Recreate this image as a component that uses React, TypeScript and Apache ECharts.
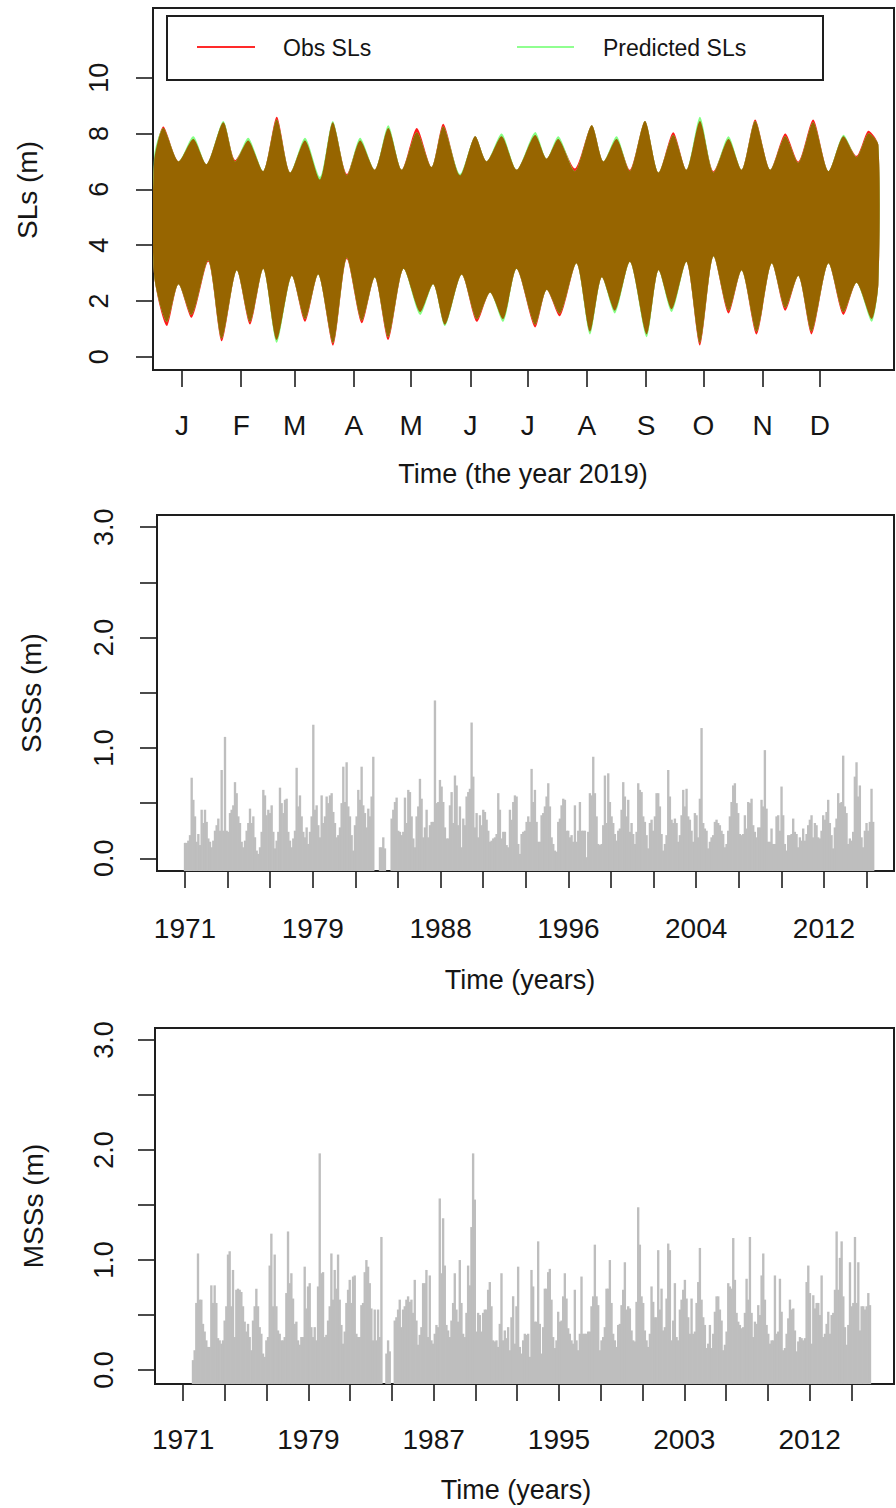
import React, { useEffect, useRef } from 'react';
import * as echarts from 'echarts';

// ---------- Panel 1: sea levels 2019 (envelopes of hourly obs / predicted) ----------
const monthDays = [0, 31, 59, 90, 120, 151, 181, 212, 243, 273, 304, 334];
const monthLabels = ['J', 'F', 'M', 'A', 'M', 'J', 'J', 'A', 'S', 'O', 'N', 'D'];
const slTicks = [0, 2, 4, 6, 8, 10];

const upperDays = [-14.6, -9.8, -1.9, 5.9, 12.9, 21.6, 27.7, 34.7, 42.6, 49.6, 56.5, 64.4, 72.3, 78.9, 86.2, 93.2, 101.0, 108.0, 115.0, 122.9, 130.7, 136.8, 145.5, 153.4, 159.5, 167.4, 175.2, 184.8, 190.9, 197.1, 205.8, 214.5, 220.6, 227.6, 234.6, 242.4, 249.4, 257.2, 264.2, 271.2, 278.2, 286.1, 293.1, 300.1, 307.9, 315.8, 322.8, 330.5, 338.4, 346.2, 353.2, 359.3, 364.6];
const obsUpper = [7.0, 8.25, 7.0, 7.8, 6.9, 8.4, 7.05, 7.75, 6.65, 8.6, 6.6, 7.75, 6.35, 8.4, 6.55, 7.75, 6.7, 8.2, 6.7, 8.2, 6.8, 8.35, 6.5, 7.9, 7.0, 7.9, 6.7, 7.95, 7.1, 7.8, 6.75, 8.3, 7.0, 7.8, 6.7, 8.45, 6.6, 8.05, 6.7, 8.45, 6.65, 7.8, 6.7, 8.5, 6.7, 8.0, 7.0, 8.5, 6.65, 7.9, 7.2, 8.1, 7.6];
const predUpper = [7.2, 8.2, 7.0, 7.9, 6.9, 8.45, 7.0, 7.85, 6.65, 8.5, 6.6, 7.85, 6.45, 8.45, 6.5, 7.85, 6.7, 8.3, 6.7, 8.05, 6.8, 8.25, 6.55, 7.9, 7.0, 8.0, 6.7, 8.05, 7.1, 7.9, 6.65, 8.3, 7.0, 7.9, 6.65, 8.45, 6.6, 7.95, 6.7, 8.6, 6.6, 7.9, 6.7, 8.45, 6.7, 7.9, 6.95, 8.4, 6.65, 7.95, 7.15, 8.0, 7.6];
const lowerDays = [-14.6, -8.0, -1.9, 5.1, 13.8, 20.8, 28.6, 35.6, 42.6, 49.6, 57.4, 64.4, 71.4, 79.2, 86.2, 94.1, 101.0, 108.0, 115.9, 124.6, 131.6, 137.7, 146.4, 154.3, 161.3, 168.2, 175.2, 184.8, 190.9, 197.9, 206.6, 213.6, 219.7, 226.7, 234.6, 243.3, 249.4, 256.4, 264.2, 271.2, 278.2, 286.1, 293.1, 300.9, 308.7, 315.8, 322.8, 329.7, 338.4, 346.2, 353.2, 361.1, 364.6];
const obsLower = [2.9, 1.1, 2.6, 1.4, 3.4, 0.55, 3.1, 1.15, 3.15, 0.6, 2.9, 1.25, 2.95, 0.4, 3.5, 1.2, 2.85, 0.6, 3.15, 1.6, 2.6, 1.15, 2.95, 1.25, 2.3, 1.35, 3.15, 1.05, 2.4, 1.45, 3.35, 0.9, 2.85, 1.65, 3.4, 0.8, 3.1, 1.7, 3.4, 0.4, 3.6, 1.55, 3.1, 0.8, 3.35, 1.65, 2.9, 0.8, 3.35, 1.5, 2.65, 1.35, 2.6];
const predLower = [2.9, 1.25, 2.6, 1.5, 3.45, 0.65, 3.1, 1.25, 3.15, 0.5, 2.9, 1.35, 2.95, 0.5, 3.55, 1.3, 2.85, 0.7, 3.15, 1.5, 2.6, 1.1, 2.95, 1.35, 2.3, 1.25, 3.15, 1.15, 2.4, 1.55, 3.35, 0.8, 2.85, 1.55, 3.4, 0.7, 3.1, 1.6, 3.4, 0.5, 3.6, 1.65, 3.1, 0.9, 3.35, 1.75, 2.9, 0.9, 3.35, 1.6, 2.65, 1.25, 2.6];

// ---------- Panels 2 & 3: surge series (m) ----------
const TICK_STEP = 1000 / 365.25; // years between axis ticks
const yearTicks = Array.from({ length: 17 }, (_, k) => 1971 + k * TICK_STEP);
const labelTickIdx = [0, 3, 6, 9, 12, 15];
const ssssLabels = ['1971', '1979', '1988', '1996', '2004', '2012'];
const msssLabels = ['1971', '1979', '1987', '1995', '2003', '2012'];
const surgeTicks = [0, 0.5, 1, 1.5, 2, 2.5, 3];
const surgeLabels = [0, 1, 2, 3];

const SSSS_START = 1971.0;
const SSSS_STEP = 0.1071;
const ssss: (number | null)[] = [
  0.14, 0.14, 0.16, 0.21, 0.73, 0.53, 0.38, 0.15, 0.22, 0.12,
  0.44, 0.32, 0.44, 0.33, 0.18, 0.15, 0.10, 0.16, 0.25, 0.30,
  0.36, 0.25, 0.80, 0.25, 1.10, 0.25, 0.24, 0.41, 0.44, 0.48,
  0.69, 0.59, 0.38, 0.32, 0.15, 0.10, 0.16, 0.25, 0.32, 0.45,
  0.32, 0.38, 0.19, 0.07, 0.04, 0.10, 0.24, 0.62, 0.57, 0.39,
  0.44, 0.41, 0.48, 0.24, 0.09, 0.16, 0.24, 0.64, 0.50, 0.41,
  0.53, 0.54, 0.24, 0.16, 0.10, 0.18, 0.25, 0.82, 0.47, 0.57,
  0.38, 0.24, 0.19, 0.28, 0.13, 0.24, 0.38, 1.21, 0.44, 0.48,
  0.30, 0.19, 0.57, 0.32, 0.38, 0.56, 0.50, 0.57, 0.59, 0.42,
  0.32, 0.19, 0.21, 0.28, 0.50, 0.83, 0.51, 0.87, 0.47, 0.38,
  0.21, 0.07, 0.30, 0.38, 0.62, 0.53, 0.83, 0.48, 0.41, 0.28,
  0.45, 0.38, 0.56, 0.92, null, null, null, 0.10, 0.10, 0.19,
  0.09, null, null, null, 0.36, 0.44, 0.51, 0.55, 0.25, 0.24,
  0.21, 0.24, 0.55, 0.32, 0.62, 0.60, 0.38, 0.18, 0.10, 0.38,
  0.47, 0.72, 0.54, 0.19, 0.28, 0.44, 0.19, 0.30, 0.33, 0.33,
  1.43, 0.50, 0.51, 0.71, 0.65, 0.51, 0.28, 0.18, 0.18, 0.48,
  0.60, 0.32, 0.75, 0.66, 0.30, 0.47, 0.10, 0.36, 0.30, 0.56,
  0.60, 0.63, 1.23, 0.74, 0.28, 0.41, 0.19, 0.39, 0.30, 0.44,
  0.42, 0.35, 0.25, 0.15, 0.16, 0.18, 0.19, 0.22, 0.59, 0.44,
  0.18, 0.24, 0.24, 0.12, 0.10, 0.44, 0.35, 0.51, 0.57, 0.56,
  0.13, 0.04, 0.22, 0.24, 0.25, 0.33, 0.38,
  0.33, 0.81, 0.51, 0.62, 0.33, 0.15, 0.15, 0.39, 0.41, 0.47,
  0.56, 0.68, 0.47, 0.19, 0.13, 0.07, 0.06, 0.33, 0.36, 0.48,
  0.54, 0.53, 0.25, 0.25, 0.19, 0.21, 0.15, 0.48, 0.15, 0.25,
  0.51, 0.25, 0.25, 0.25, 0.01, 0.24, 0.59, 0.57, 0.92, 0.59,
  0.38, 0.13, 0.12, 0.13, 0.30, 0.75, 0.32, 0.77, 0.51, 0.38,
  0.32, 0.22, 0.16, 0.25, 0.27, 0.44, 0.69, 0.56, 0.38, 0.53,
  0.24, 0.32, 0.22, 0.13, 0.24, 0.68, 0.62, 0.60, 0.38, 0.33,
  0.21, 0.09, 0.32, 0.35, 0.25, 0.38, 0.59, 0.59, 0.47, 0.22,
  0.07, 0.13, 0.21, 0.80, 0.56, 0.35, 0.32, 0.36, 0.32, 0.15,
  0.21, 0.39, 0.62, 0.47, 0.63, 0.38, 0.35, 0.25, 0.15, 0.41,
  0.39, 0.19, 0.54, 1.18, 0.32, 0.27, 0.25, 0.09, 0.15, 0.19,
  0.21, 0.33, 0.35, 0.32, 0.30, 0.25, 0.22, 0.10, 0.13, 0.25,
  0.38, 0.51, 0.66, 0.68, 0.50, 0.41, 0.22, 0.21, 0.22, 0.39,
  0.27, 0.51, 0.50, 0.54, 0.30, 0.24, 0.19, 0.28, 0.28, 0.53,
  0.47, 0.98, 0.45, 0.15, 0.15, 0.27, 0.13, 0.13, 0.38, 0.39,
  0.25, 0.65, 0.39, 0.13, 0.07, 0.21, 0.21, 0.22, 0.36, 0.24,
  0.22, 0.10, 0.19, 0.16, 0.27, 0.16, 0.22, 0.30, 0.35, 0.39,
  0.19, 0.32, 0.30, 0.19, 0.18, 0.25, 0.39, 0.35, 0.42, 0.53,
  0.32, 0.21, 0.09, 0.28, 0.36, 0.59, 0.50, 0.51, 0.93, 0.47,
  0.41, 0.13, 0.18, 0.16, 0.24, 0.74, 0.87, 0.56, 0.66, 0.19,
  0.10, 0.25, 0.32, 0.25, 0.33, 0.63, 0.33,
];

const MSSS_START = 1971.65;
const MSSS_STEP = 0.1093;
const msss: (number | null)[] = [
  0.09, 0.18, 0.61, 1.06, 0.64, 0.64, 0.42, 0.35, 0.27, 0.21,
  0.21, 0.77, 0.61, 0.77, 0.61, 0.29, 0.27, 0.24, 0.27, 0.45,
  0.58, 1.05, 1.08, 0.58, 0.91, 0.30, 0.73, 0.74, 0.73, 0.71,
  0.58, 0.44, 0.35, 0.42, 0.30, 0.18, 0.45, 0.58, 0.74, 0.58,
  0.39, 0.33, 0.15, 0.12, 0.27, 0.30, 0.95, 1.24, 0.58, 1.05,
  0.58, 0.36, 0.33, 0.27, 0.27, 0.30, 0.70, 1.26, 0.79, 0.88,
  0.65, 0.42, 0.44, 0.27, 0.23, 0.30, 0.30, 0.94, 0.56, 0.76,
  0.79, 0.39, 0.30, 0.39, 0.27, 0.76, 1.97, 0.88, 0.89, 0.30,
  0.32, 0.45, 0.58, 1.06, 0.64, 0.91, 0.74, 1.05, 0.64, 0.41,
  0.24, 0.35, 0.61, 0.73, 0.82, 0.61, 0.85, 0.86, 0.33, 0.30,
  0.30, 0.59, 0.61, 0.89, 1.00, 0.94, 0.79, 0.56, 0.27, 0.55,
  0.27, 0.55, 0.30, 1.21, null, null, 0.15, 0.27, 0.17, null,
  null, 0.45, 0.48, 0.55, 0.64, 0.39, 0.55, 0.58, 0.64, 0.67,
  0.62, 0.64, 0.52, 0.82, 0.45, 0.23, 0.32, 0.39, 0.79, 0.79,
  0.91, 0.30, 0.86, 0.27, 0.24, 0.33, 0.41, 0.39, 1.56, 0.88,
  1.38, 0.95, 0.41, 0.36, 0.30, 0.45, 0.61, 0.88, 0.55, 0.44,
  1.00, 0.61, 0.33, 0.30, 0.52, 0.95, 0.77, 1.30, 1.97, 1.55,
  0.35, 0.52, 0.50, 0.35, 0.52, 0.55, 0.55, 0.73, 0.80, 0.58,
  0.27, 0.26, 0.27, 0.21, 0.42, 0.88, 0.27, 0.36, 0.29, 0.39,
  0.18, 0.48, 0.67, 0.24, 0.58, 0.94, 0.21, 0.15, 0.27, 0.33,
  0.32, 0.33,
  0.12, 0.91, 0.76, 0.44, 0.44, 1.17, 0.42, 0.15, 0.39, 0.74,
  0.74, 0.89, 0.92, 0.64, 0.30, 0.20, 0.27, 0.53, 0.44, 0.45,
  0.67, 0.88, 0.65, 0.38, 0.33, 0.27, 0.24, 0.73, 0.27, 0.18,
  0.33, 0.85, 0.33, 0.33, 0.33, 0.35, 0.35, 0.58, 0.67, 1.14,
  0.67, 0.59, 0.18, 0.27, 0.30, 0.39, 0.74, 0.74, 1.00, 0.61,
  0.33, 0.27, 0.21, 0.41, 0.42, 0.59, 0.73, 0.98, 0.55, 0.58,
  0.56, 0.36, 0.27, 0.26, 0.62, 1.48, 1.14, 0.67, 0.61, 0.36,
  0.27, 0.21, 0.33, 0.76, 0.62, 0.48, 0.48, 1.09, 0.55, 0.74,
  0.36, 0.39, 0.65, 1.15, 1.09, 0.27, 0.45, 0.79, 0.30, 0.27,
  0.55, 0.64, 0.73, 0.82, 0.65, 0.48, 0.33, 0.65, 0.33, 0.35,
  0.61, 0.80, 1.11, 0.64, 0.48, 0.41, 0.20, 0.24, 0.41, 0.20,
  0.33, 0.53, 0.67, 0.67, 0.55, 0.45, 0.18, 0.23, 0.35, 0.79,
  0.76, 0.74, 1.20, 0.82, 0.52, 0.44, 0.41, 0.38, 0.39, 0.52,
  0.83, 0.64, 1.21, 0.52, 0.30, 0.44, 0.42, 0.59, 0.50, 0.86,
  1.06, 0.64, 0.41, 0.33, 0.24, 0.27, 0.27, 0.86, 0.33, 0.35,
  0.83, 0.53, 0.18, 0.20, 0.33, 0.47, 0.64, 0.55, 0.56, 0.36,
  0.17, 0.26, 0.30, 0.29, 0.27, 0.29, 0.80, 0.95, 0.70, 0.24,
  0.68, 0.56, 0.61, 0.61, 0.50, 0.86, 0.30, 0.33, 0.42, 0.53,
  0.33, 0.50, 0.52, 0.73, 1.26, 0.73, 1.02, 1.17, 0.67, 0.39,
  0.23, 0.41, 0.98, 0.58, 0.61, 1.21, 0.61, 0.98, 0.36, 0.58,
  0.58, 0.55, 0.58, 0.70, 0.59,
];

const FONT = "'Liberation Sans', Arial, Helvetica, sans-serif";
const INK = '#151515';

function barSeries(values: (number | null)[], start: number, step: number, idx: number, yMin: number) {
  const data: number[][] = [];
  values.forEach((v, i) => {
    if (v !== null) data.push([start + i * step, v]);
  });
  return {
    type: 'custom',
    xAxisIndex: idx,
    yAxisIndex: idx,
    silent: true,
    clip: true,
    data,
    encode: { x: 0, y: 1 },
    renderItem: (_p: any, api: any) => {
      const t = api.value(0);
      const v = api.value(1);
      const base = api.coord([t, yMin]);
      const top = api.coord([t, v]);
      const w = api.size([step, 0])[0] + 0.7;
      return {
        type: 'rect',
        shape: { x: top[0] - w / 2, y: top[1], width: w, height: base[1] - top[1] },
        style: { fill: '#bebebe' },
      };
    },
  };
}

export default function App() {
  const ref = useRef<HTMLDivElement>(null);
  useEffect(() => {
    if (!ref.current) return;
    const chart = echarts.init(ref.current, null, { renderer: 'svg' });

    const gridBase = { show: true, borderColor: '#1e1e1e', borderWidth: 2, backgroundColor: 'transparent', containLabel: false, outerBoundsMode: 'none' };
    const tickStyle = { show: true, inside: false, length: 17, lineStyle: { color: '#1e1e1e', width: 1.6 } };
    const labelBase = { color: INK, fontFamily: FONT, fontSize: 28 };
    const noLine = { show: false, onZero: false };

    const Y1 = { min: -0.477, max: 12.5 };
    const Y2 = { min: -0.115, max: 3.11 };
    const Y3 = { min: -0.127, max: 3.11 };

    const bandSeries = {
      type: 'custom',
      xAxisIndex: 0,
      yAxisIndex: 0,
      silent: true,
      clip: true,
      data: [[0, 5]],
      renderItem: (_p: any, api: any) => {
        const poly = (up: number[], lo: number[]) => {
          const pts: number[][] = [];
          upperDays.forEach((d, i) => pts.push(api.coord([d, up[i]])));
          for (let i = lowerDays.length - 1; i >= 0; i--) pts.push(api.coord([lowerDays[i], lo[i]]));
          return pts;
        };
        const minU = obsUpper.map((v, i) => Math.min(v, predUpper[i]));
        const maxL = obsLower.map((v, i) => Math.max(v, predLower[i]));
        return {
          type: 'group',
          children: [
            { type: 'polygon', shape: { points: poly(obsUpper, obsLower), smooth: 0.25 }, style: { fill: '#ff1a1a' } },
            { type: 'polygon', shape: { points: poly(predUpper, predLower), smooth: 0.25 }, style: { fill: '#84ff84' } },
            { type: 'polygon', shape: { points: poly(minU, maxL), smooth: 0.25 }, style: { fill: '#976500' } },
          ],
        };
      },
    };

    const yearLabelFmt = (labels: string[]) => (v: number) => {
      const k = Math.round((v - 1971) / TICK_STEP);
      const j = labelTickIdx.indexOf(k);
      return j >= 0 ? labels[j] : '';
    };

    const option: any = {
      animation: false,
      backgroundColor: '#ffffff',
      grid: [
        { ...gridBase, left: 153, top: 8, width: 741, height: 362 },
        { ...gridBase, left: 157, top: 515, width: 737, height: 356 },
        { ...gridBase, left: 155, top: 1028, width: 739, height: 356 },
      ],
      xAxis: [
        {
          type: 'value', gridIndex: 0, position: 'bottom', min: -15.2, max: 372.8,
          axisLine: noLine, splitLine: { show: false },
          axisTick: { ...tickStyle, customValues: monthDays },
          axisLabel: {
            ...labelBase, margin: 41, customValues: monthDays,
            formatter: (v: number) => monthLabels[monthDays.indexOf(Math.round(v))] ?? '',
          },
        },
        {
          type: 'value', gridIndex: 1, position: 'bottom', min: 1969.2, max: 2016.57,
          axisLine: noLine, splitLine: { show: false },
          axisTick: { ...tickStyle, customValues: yearTicks },
          axisLabel: { ...labelBase, margin: 43, customValues: labelTickIdx.map((k) => yearTicks[k]), formatter: yearLabelFmt(ssssLabels) },
        },
        {
          type: 'value', gridIndex: 2, position: 'bottom', min: 1969.16, max: 2017.6,
          axisLine: noLine, splitLine: { show: false },
          axisTick: { ...tickStyle, customValues: yearTicks },
          axisLabel: { ...labelBase, margin: 41, customValues: labelTickIdx.map((k) => yearTicks[k]), formatter: yearLabelFmt(msssLabels) },
        },
      ],
      yAxis: [
        {
          type: 'value', gridIndex: 0, position: 'left', ...Y1,
          axisLine: noLine, splitLine: { show: false },
          axisTick: { ...tickStyle, customValues: slTicks },
          axisLabel: { ...labelBase, fontSize: 27, rotate: 90, margin: 41, customValues: slTicks, formatter: (v: number) => String(Math.round(v)) },
        },
        {
          type: 'value', gridIndex: 1, position: 'left', ...Y2,
          axisLine: noLine, splitLine: { show: false },
          axisTick: { ...tickStyle, customValues: surgeTicks },
          axisLabel: { ...labelBase, fontSize: 27, rotate: 90, margin: 40, customValues: surgeLabels, formatter: (v: number) => v.toFixed(1) },
        },
        {
          type: 'value', gridIndex: 2, position: 'left', ...Y3,
          axisLine: noLine, splitLine: { show: false },
          axisTick: { ...tickStyle, customValues: surgeTicks },
          axisLabel: { ...labelBase, fontSize: 27, rotate: 90, margin: 38, customValues: surgeLabels, formatter: (v: number) => v.toFixed(1) },
        },
      ],
      series: [
        bandSeries,
        barSeries(ssss, SSSS_START, SSSS_STEP, 1, Y2.min),
        barSeries(msss, MSSS_START, MSSS_STEP, 2, Y3.min),
      ],
      graphic: [
        { type: 'rect', z: 100, shape: { x: 167, y: 16, width: 656, height: 64 }, style: { fill: '#ffffff', stroke: '#1e1e1e', lineWidth: 2 } },
        { type: 'line', z: 101, shape: { x1: 197, y1: 47, x2: 255, y2: 47 }, style: { stroke: '#ff2a2a', lineWidth: 2 } },
        { type: 'text', z: 101, x: 283, y: 48, style: { text: 'Obs SLs', fontSize: 23, fontFamily: FONT, fill: INK, align: 'left', verticalAlign: 'middle' } },
        { type: 'line', z: 101, shape: { x1: 517, y1: 47, x2: 574, y2: 47 }, style: { stroke: '#90ff90', lineWidth: 2 } },
        { type: 'text', z: 101, x: 603, y: 48, style: { text: 'Predicted SLs', fontSize: 23, fontFamily: FONT, fill: INK, align: 'left', verticalAlign: 'middle' } },
        { type: 'text', x: 27, y: 190, rotation: Math.PI / 2, style: { text: 'SLs (m)', fontSize: 28, fontFamily: FONT, fill: INK, align: 'center', verticalAlign: 'middle' } },
        { type: 'text', x: 523, y: 474, style: { text: 'Time (the year 2019)', fontSize: 27, fontFamily: FONT, fill: INK, align: 'center', verticalAlign: 'middle' } },
        { type: 'text', x: 31, y: 693, rotation: Math.PI / 2, style: { text: 'SSSs (m)', fontSize: 28, fontFamily: FONT, fill: INK, align: 'center', verticalAlign: 'middle' } },
        { type: 'text', x: 520, y: 980, style: { text: 'Time (years)', fontSize: 27, fontFamily: FONT, fill: INK, align: 'center', verticalAlign: 'middle' } },
        { type: 'text', x: 33, y: 1206, rotation: Math.PI / 2, style: { text: 'MSSs (m)', fontSize: 28, fontFamily: FONT, fill: INK, align: 'center', verticalAlign: 'middle' } },
        { type: 'text', x: 516, y: 1490, style: { text: 'Time (years)', fontSize: 27, fontFamily: FONT, fill: INK, align: 'center', verticalAlign: 'middle' } },
      ],
    };

    chart.setOption(option);
    return () => chart.dispose();
  }, []);

  return (
    <div style={{ position: 'absolute', left: 0, top: 0, width: 896, height: 1508, background: '#fff' }}>
      <div ref={ref} style={{ width: 896, height: 1508 }} />
    </div>
  );
}
